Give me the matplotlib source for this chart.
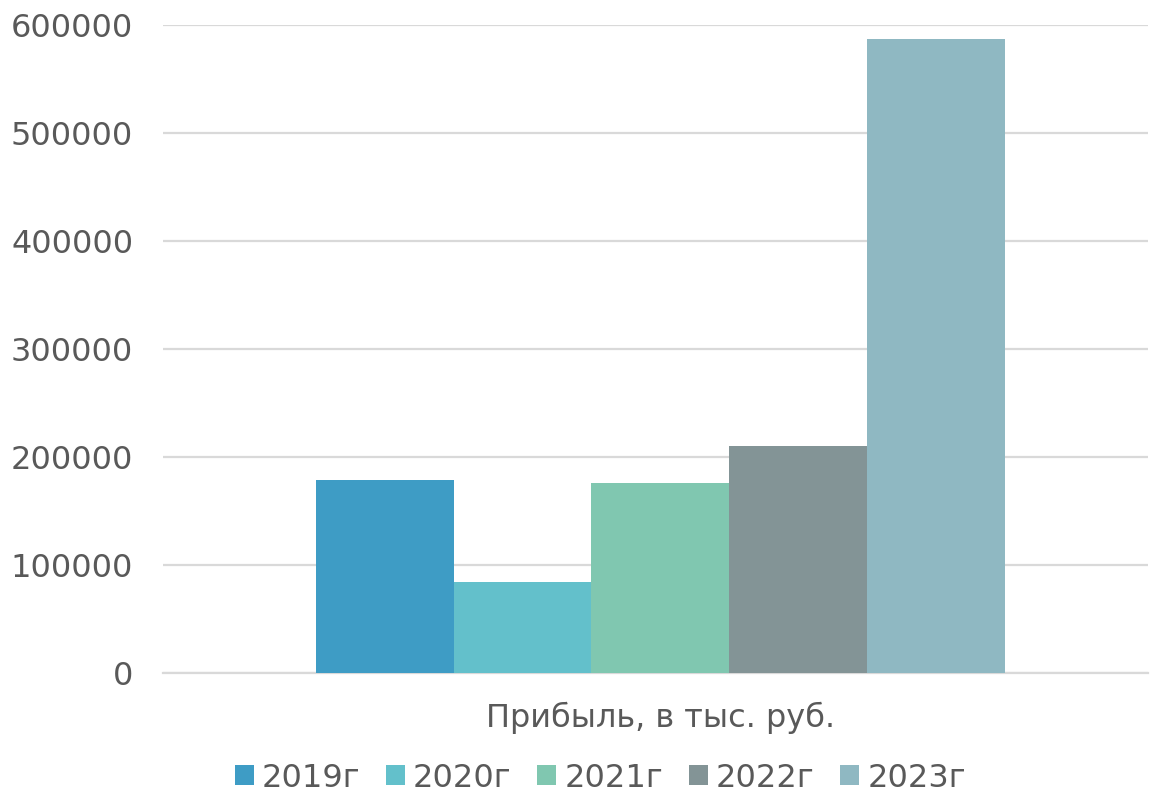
import matplotlib.pyplot as plt
import numpy as np

category = "Прибыль, в тыс. руб."
years = ["2019г", "2020г", "2021г", "2022г", "2023г"]
profit = [179000, 84000, 176000, 210000, 587000]
colors = ["#3e9cc5", "#63c0cb", "#80c7b0", "#839496", "#8fb8c2"]

plt.rcParams['font.family'] = ['DejaVu Sans']
txt = '#595959'

fig = plt.figure(figsize=(11.52, 7.96), dpi=100)
ax = fig.add_axes([0.1415, 0.1545, 0.855, 0.814])

width = 0.7 / len(years)
offsets = (np.arange(len(years)) - (len(years) - 1) / 2) * width
for off, val, col, lab in zip(offsets, profit, colors, years):
    ax.bar(off, val, width, color=col, label=lab, zorder=3)

ax.set_xlim(-0.505, 0.495)
ax.set_ylim(0, 600000)
ax.set_yticks(np.arange(0, 600001, 100000))
ax.yaxis.grid(True, color='#d9d9d9', linewidth=1.6, zorder=0)
ax.set_xticks([0])
ax.set_xticklabels([category])
ax.tick_params(axis='both', length=0, labelsize=23, labelcolor=txt)
ax.tick_params(axis='y', pad=21.5)
ax.tick_params(axis='x', pad=21)
for s in ['top', 'right', 'left']:
    ax.spines[s].set_visible(False)
ax.spines['bottom'].set_color('#d9d9d9')
ax.spines['bottom'].set_linewidth(1.6)

leg = fig.legend(loc='lower center', bbox_to_anchor=(0.521, -0.033), ncol=5, frameon=False,
                 fontsize=23, handlelength=0.6, handleheight=0.6, handletextpad=0.25,
                 columnspacing=0.8)
for t in leg.get_texts():
    t.set_color(txt)

fig.savefig("out.png", dpi=100)
